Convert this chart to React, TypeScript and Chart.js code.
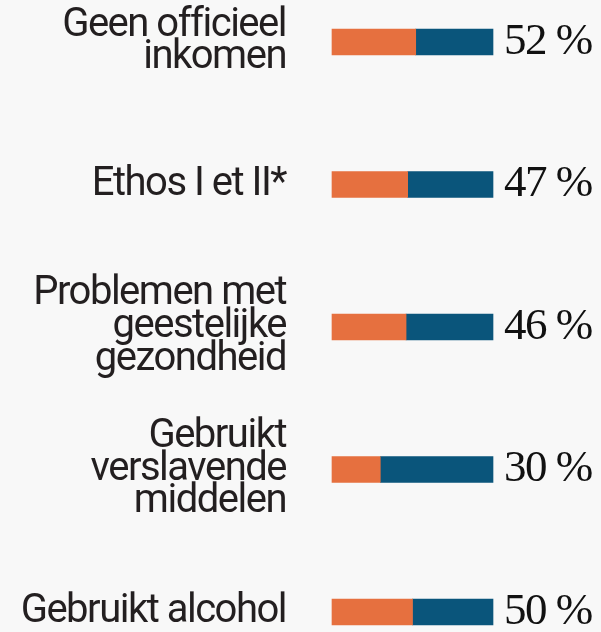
import React, { useEffect, useRef } from "react";
import { Chart, registerables } from "chart.js";

Chart.register(...registerables);

const categories: string[][] = [
  ["Geen officieel", "inkomen"],
  ["Ethos I et II*"],
  ["Problemen met", "geestelijke", "gezondheid"],
  ["Gebruikt", "verslavende", "middelen"],
  ["Gebruikt alcohol"],
];
const shareValues: number[] = [52, 47, 46, 30, 50];
const remainderValues: number[] = [48, 53, 54, 70, 50];
const percentLabels: string[] = ["52 %", "47 %", "46 %", "30 %", "50 %"];

const ORANGE = "#e6703f";
const BLUE = "#0a557b";
const BG = "#f8f8f8";

const tightText = {
  id: "tightText",
  beforeDraw(chart: any) {
    (chart.ctx as any).letterSpacing = "-1.5px";
  },
};

export default function App() {
  const ref = useRef<HTMLCanvasElement | null>(null);

  useEffect(() => {
    if (!ref.current) return;
    const chart = new Chart(ref.current, {
      type: "bar",
      plugins: [tightText],
      data: {
        labels: categories,
        datasets: [
          {
            data: shareValues,
            backgroundColor: ORANGE,
            barThickness: 26,
            clip: false as any,
            yAxisID: "y",
          },
          {
            data: remainderValues,
            backgroundColor: BLUE,
            barThickness: 26,
            clip: false as any,
            yAxisID: "y",
          },
        ],
      },
      options: {
        indexAxis: "y",
        animation: false,
        responsive: false,
        layout: { padding: { top: 42, bottom: 20, left: 0, right: 0 } },
        plugins: { legend: { display: false }, tooltip: { enabled: false } },
        scales: {
          x: {
            display: false,
            stacked: true,
            min: 0,
            max: 100,
          },
          y: {
            type: "category",
            position: "left",
            stacked: true,
            offset: false,
            grid: { display: false, drawTicks: false },
            border: { display: false },
            ticks: {
              padding: 46,
              color: "#231f20",
              font: { family: "Roboto", size: 40, lineHeight: 0.82 },
            },
            afterFit: (scale: any) => {
              scale.width = 332;
              scale.paddingTop = 0;
              scale.paddingBottom = 0;
            },
          },
          y2: {
            type: "category",
            position: "right",
            labels: percentLabels,
            offset: false,
            grid: { display: false, drawTicks: false },
            border: { display: false },
            ticks: {
              padding: 11,
              color: "#111111",
              font: { family: "Liberation Serif", size: 45 },
            },
            afterFit: (scale: any) => {
              scale.width = 108;
              scale.paddingTop = 0;
              scale.paddingBottom = 0;
            },
          },
        },
      },
    });
    return () => chart.destroy();
  }, []);

  return (
    <div
      style={{
        position: "fixed",
        left: 0,
        top: 0,
        width: 601,
        height: 632,
        background: BG,
      }}
    >
      <canvas ref={ref} width={601} height={632} style={{ display: "block" }} />
    </div>
  );
}
